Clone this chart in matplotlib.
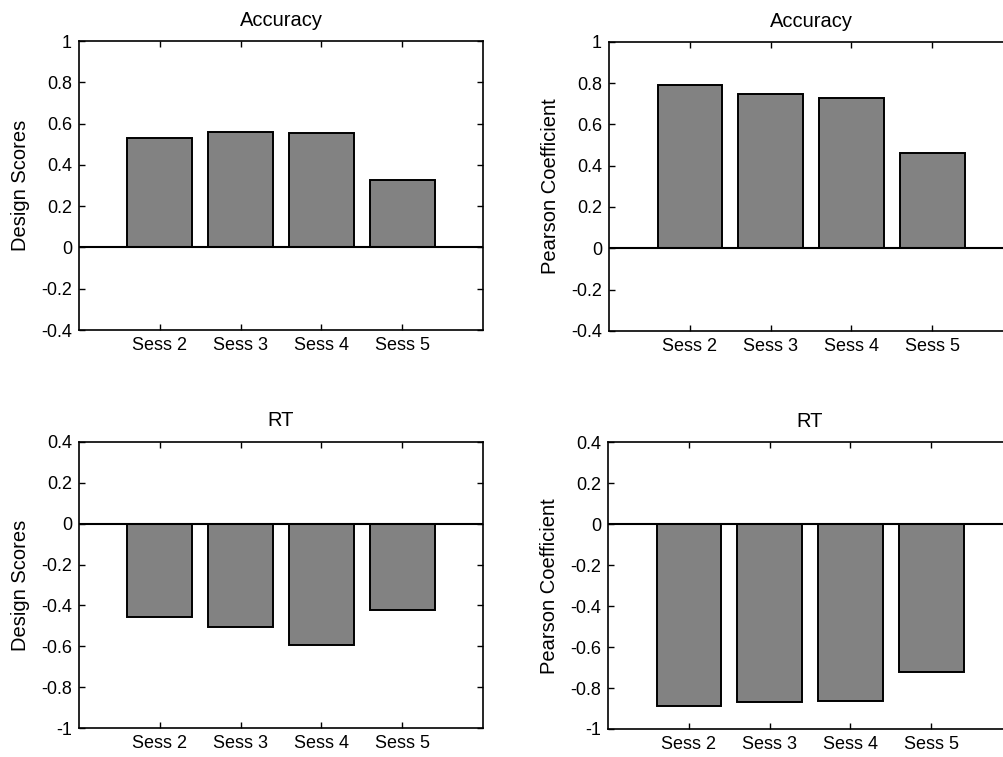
import matplotlib
matplotlib.use("Agg")
import matplotlib.pyplot as plt
import numpy as np

categories = ["Sess 2", "Sess 3", "Sess 4", "Sess 5"]
acc_design = [0.53, 0.56, 0.553, 0.325]
acc_pearson = [0.79, 0.747, 0.729, 0.462]
rt_design = [-0.457, -0.505, -0.592, -0.423]
rt_pearson = [-0.89, -0.869, -0.861, -0.721]

plt.rcParams['font.family'] = ['Liberation Sans', 'DejaVu Sans']

fig = plt.figure(figsize=(10.04, 7.57), dpi=100)

panels = [
    ([0.0787, 0.564, 0.4024, 0.3818], acc_design, "Accuracy", "Design Scores",
     (-0.4, 1.0), [-0.4, -0.2, 0, 0.2, 0.4, 0.6, 0.8, 1]),
    ([0.6066, 0.563, 0.4024, 0.3818], acc_pearson, "Accuracy", "Pearson Coefficient",
     (-0.4, 1.0), [-0.4, -0.2, 0, 0.2, 0.4, 0.6, 0.8, 1]),
    ([0.0787, 0.0379, 0.4024, 0.3786], rt_design, "RT", "Design Scores",
     (-1.0, 0.4), [-1, -0.8, -0.6, -0.4, -0.2, 0, 0.2, 0.4]),
    ([0.6056, 0.0370, 0.4024, 0.3786], rt_pearson, "RT", "Pearson Coefficient",
     (-1.0, 0.4), [-1, -0.8, -0.6, -0.4, -0.2, 0, 0.2, 0.4]),
]

def fmt(v):
    if abs(v) < 1e-9:
        return "0"
    if abs(v - round(v)) < 1e-9:
        return "%d" % round(v)
    return "%.1f" % v

x = np.arange(1, len(categories) + 1)
for rect, vals, title, ylabel, ylim, yticks in panels:
    ax = fig.add_axes(rect)
    ax.bar(x, vals, width=0.8, color="#828282", edgecolor="black", linewidth=1.4, zorder=2)
    ax.axhline(0, color="black", linewidth=1.5, zorder=3)
    ax.set_xlim(0, 5)
    ax.set_ylim(*ylim)
    ax.set_xticks(x)
    ax.set_xticklabels(categories, fontsize=13)
    ax.set_yticks(yticks)
    ax.set_yticklabels([fmt(v) for v in yticks], fontsize=13)
    ax.tick_params(direction="in", top=True, right=True, length=4, width=1, pad=5)
    ax.set_title(title, fontsize=14.5, pad=11)
    ax.set_ylabel(ylabel, fontsize=14.5, labelpad=8)
    for sp in ax.spines.values():
        sp.set_linewidth(1.2)

fig.savefig("out.png", dpi=100)
